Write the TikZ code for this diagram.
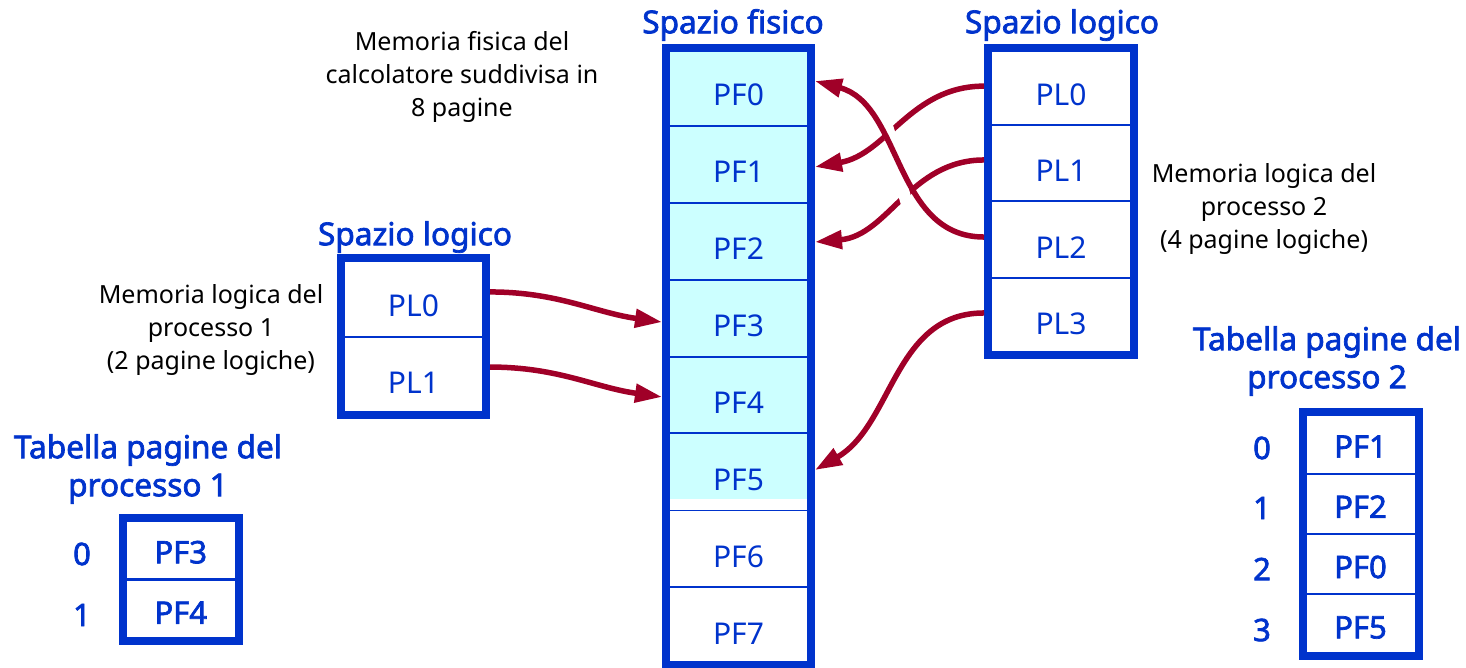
\documentclass[tikz,border=0pt]{standalone}
\usepackage{fontspec}
\setmainfont{Noto Sans}[AutoFakeBold=2.2]
\usetikzlibrary{arrows.meta,calc}
\definecolor{pblue}{RGB}{0,51,204}
\definecolor{pred}{RGB}{160,0,40}
\definecolor{pcyan}{RGB}{204,255,255}
\begin{document}
\begin{tikzpicture}[x=0.5pt,y=-0.5pt,
  cellbase/.style={rectangle, draw=pblue, line width=1pt, inner sep=0pt, text=pblue},
  pfcell/.style={cellbase, minimum width=71.5pt, minimum height=38.44pt,
     font=\fontsize{15}{18}\selectfont, text height=18.5pt, text depth=0pt},
  pl2cell/.style={cellbase, minimum width=72pt, minimum height=38.125pt,
     font=\fontsize{15}{18}\selectfont, text height=18.5pt, text depth=0pt},
  pl1cell/.style={cellbase, minimum width=71.5pt, minimum height=38.75pt,
     font=\fontsize{15}{18}\selectfont, text height=18.5pt, text depth=0pt},
  tcell/.style={cellbase, minimum width=57.25pt, minimum height=30.2pt,
     font=\bfseries\fontsize{15.5}{18}\selectfont, text height=14pt, text depth=0pt},
  frame/.style={draw=pblue, line width=4pt},
  title/.style={text=pblue, font=\bfseries\fontsize{15.8}{19}\selectfont, align=center, inner sep=0pt},
  note/.style={text=black, font=\fontsize{12.5}{16.5}\selectfont, align=center, inner sep=0pt},
  idx/.style={text=pblue, font=\bfseries\fontsize{15.5}{17}\selectfont, inner sep=0pt},
  arr/.style={draw=pred, line width=2.75pt, -{Triangle[length=13.5pt,width=9pt]}},
  halo/.style={draw=white, line width=6pt, shorten <=25pt, shorten >=25pt}
]
\useasboundingbox (0,0) rectangle (1466,668);

% ---------- physical space ----------
\node[pfcell, fill=pcyan] (pf0) at (738.5,87.44) {PF0};
\node[pfcell, fill=pcyan] (pf1) at (738.5,164.31) {PF1};
\node[pfcell, fill=pcyan] (pf2) at (738.5,241.19) {PF2};
\node[pfcell, fill=pcyan] (pf3) at (738.5,318.06) {PF3};
\node[pfcell, fill=pcyan] (pf4) at (738.5,394.94) {PF4};
\node[pfcell, fill=pcyan] (pf5) at (738.5,471.81) {PF5};
\node[pfcell] (pf6) at (738.5,548.69) {PF6};
\node[pfcell] (pf7) at (738.5,625.56) {PF7};
\fill[white] ([yshift=0.6pt]pf5.south west) rectangle ([yshift=6pt]pf5.south east);
\draw[frame] (pf0.north west) rectangle (pf7.south east);
\node[title] (tfis) at (733,25) {Spazio fisico};
\node[note] (nfis) at (462,77) {Memoria fisica del\\calcolatore suddivisa in\\8 pagine};

% ---------- logical space, process 2 ----------
\node[pl2cell] (qa) at (1061,87.125) {PL0};
\node[pl2cell] (qb) at (1061,163.375) {PL1};
\node[pl2cell] (qc) at (1061,239.625) {PL2};
\node[pl2cell] (qd) at (1061,315.875) {PL3};
\draw[frame] (qa.north west) rectangle (qd.south east);
\node[title] (tlog2) at (1062,25) {Spazio logico};
\node[note] (np2) at (1264,209) {Memoria logica del\\processo 2\\(4 pagine logiche)};

% ---------- logical space, process 1 ----------
\node[pl1cell] (pa) at (413.5,297.75) {PL0};
\node[pl1cell] (pb) at (413.5,375.25) {PL1};
\draw[frame] (pa.north west) rectangle (pb.south east);
\node[title] (tlog1) at (415,237) {Spazio logico};
\node[note] (np1) at (211,330) {Memoria logica del\\processo 1\\(2 pagine logiche)};

% ---------- page table, process 1 ----------
\node[tcell] (ta) at (180.75,549.25) {PF3};
\node[tcell] (tb) at (180.75,609.75) {PF4};
\draw[frame] (ta.north west) rectangle (tb.south east);
\node[idx] (ia) at (82,554) {0};
\node[idx] (ib) at (82,615) {1};
\node[title] (tt1) at (148,469) {Tabella pagine del\\processo 1};

% ---------- page table, process 2 ----------
\node[tcell, minimum width=57pt, minimum height=30.125pt] (ua) at (1360.5,443.6) {PF1};
\node[tcell, minimum width=57pt, minimum height=30.125pt] (ub) at (1360.5,503.9) {PF2};
\node[tcell, minimum width=57pt, minimum height=30.125pt] (uc) at (1360.5,564.1) {PF0};
\node[tcell, minimum width=57pt, minimum height=30.125pt] (ud) at (1360.5,624.4) {PF5};
\draw[frame] (ua.north west) rectangle (ud.south east);
\node[idx] (ja) at (1262,448) {0};
\node[idx] (jb) at (1262,508) {1};
\node[idx] (jc) at (1262,569) {2};
\node[idx] (jd) at (1262,630) {3};
\node[title] (tt2) at (1327,361) {Tabella pagine del\\processo 2};

% ---------- arrows ----------
\draw[arr] ([shift={(-2pt,0.5pt)}]qa.west) to[out=180,in=10] ([shift={(2pt,-1.3pt)}]pf1.east);
\draw[arr] ([shift={(-2pt,1.7pt)}]qb.west) to[out=180,in=5] ([shift={(2pt,-0.4pt)}]pf2.east);
\draw[halo] ([shift={(-2pt,1.3pt)}]qc.west) to[out=180,in=-15] ([shift={(2pt,3.2pt)}]pf0.east);
\draw[arr] ([shift={(-2pt,1.3pt)}]qc.west) to[out=180,in=-15] ([shift={(2pt,3.2pt)}]pf0.east);
\draw[arr] ([shift={(-2pt,1.45pt)}]qd.west) to[out=180,in=30] ([shift={(2pt,0.9pt)}]pf5.east);
\draw[arr] ([shift={(2pt,2.9pt)}]pa.east) to[out=0,in=172] ([shift={(-2pt,-2pt)}]pf3.west);
\draw[arr] ([shift={(2pt,4.1pt)}]pb.east) to[out=0,in=172] ([shift={(-2pt,-1pt)}]pf4.west);
\end{tikzpicture}
\end{document}
